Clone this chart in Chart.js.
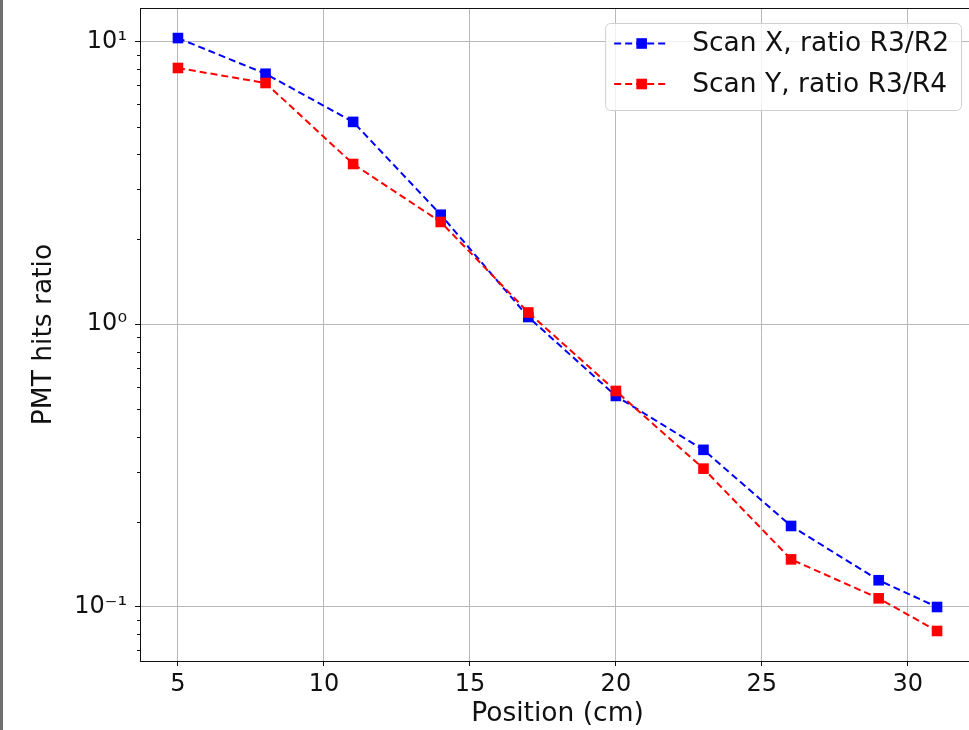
<!DOCTYPE html>
<html>
<head>
<meta charset="utf-8">
<script src="https://cdn.jsdelivr.net/npm/chart.js@4.4.1/dist/chart.umd.min.js"></script>
<style>
    html, body { margin: 0; padding: 0; background: #fff; overflow: hidden; }
    #wrap { position: relative; width: 969px; height: 730px; overflow: hidden; }
    #chart { position: absolute; left: 0; top: 0; }
    #frame { position: absolute; left: 0; top: 0; width: 3px; height: 730px; background: #707070; }
</style>
</head>
<body>
<div id="wrap">
    <canvas id="chart" width="990" height="730"></canvas>
    <div id="frame"></div>
</div>
<script>
// Position of the scan (cm)
const positions = [5, 8, 11, 14, 17, 20, 23, 26, 29, 31];

// PMT hits ratios
const scanXRatio = [10.3, 7.7, 5.2, 2.44, 1.06, 0.557, 0.359, 0.193, 0.124, 0.0997];
const scanYRatio = [8.07, 7.14, 3.69, 2.30, 1.10, 0.58, 0.308, 0.147, 0.107, 0.082];

const seriesLabels = ['Scan X, ratio R3/R2', 'Scan Y, ratio R3/R4'];
const seriesColors = ['#0000ff', '#ff0000'];

// Tick values and labels
const xTickValues = [5, 10, 15, 20, 25, 30];
const yTickValues = [0.1, 1, 10];
const yTickLabels = ['10\u207B\u00B9', '10\u2070', '10\u00B9'];
const yDecades = [0.01, 0.1, 1, 10];

const FONT = 'DejaVu Sans';
const GRID = '#b8b8b8';
const DASH = [7, 4];

function toPoints(values) {
    return positions.map((x, i) => ({ x: x, y: values[i] }));
}

// Draw the full box round the plot area
const frameBox = {
    id: 'frameBox',
    afterDraw(chart) {
        const { ctx, chartArea } = chart;
        ctx.save();
        ctx.strokeStyle = '#111';
        ctx.lineWidth = 1;
        ctx.strokeRect(Math.round(chartArea.left) + 0.5, Math.round(chartArea.top) + 0.5,
            Math.round(chartArea.right - chartArea.left), Math.round(chartArea.bottom - chartArea.top));

        // short minor ticks on the log axis
        const y = chart.scales.y;
        y.ticks.forEach((t) => {
            if (t.major) return;
            const py = Math.round(y.getPixelForValue(t.value)) + 0.5;
            ctx.beginPath();
            ctx.moveTo(chartArea.left - 3, py);
            ctx.lineTo(chartArea.left, py);
            ctx.stroke();
        });
        ctx.restore();
    }
};

// Legend drawn inside the plot, upper right
const insideLegend = {
    id: 'insideLegend',
    afterDraw(chart) {
        const { ctx, chartArea } = chart;
        ctx.save();
        ctx.font = `26.5px "${FONT}"`;
        const sets = chart.data.datasets;
        const textW = Math.max(...sets.map(d => ctx.measureText(d.label).width));
        const w = 9 + 55 + 23 + textW + 12;
        const h = 87;
        const right = chartArea.right - 14;
        const left = right - w;
        const top = chartArea.top + 15;

        ctx.beginPath();
        ctx.roundRect(left + 0.5, top + 0.5, w, h, 5);
        ctx.fillStyle = 'rgba(255,255,255,0.8)';
        ctx.fill();
        ctx.strokeStyle = '#d0d0d0';
        ctx.lineWidth = 1;
        ctx.stroke();

        sets.forEach((d, i) => {
            const ry = top + 20.5 + i * 40.5;
            ctx.strokeStyle = d.borderColor;
            ctx.lineWidth = 2;
            ctx.setLineDash(DASH);
            ctx.beginPath();
            ctx.moveTo(left + 9, ry);
            ctx.lineTo(left + 64, ry);
            ctx.stroke();
            ctx.setLineDash([]);
            ctx.fillStyle = d.borderColor;
            ctx.fillRect(left + 36.5 - 5.3, ry - 5.3, 10.6, 10.6);

            ctx.fillStyle = '#111';
            ctx.textBaseline = 'middle';
            ctx.textAlign = 'left';
            ctx.fillText(d.label, left + 87, ry + 1);
        });
        ctx.restore();
    }
};

new Chart(document.getElementById('chart'), {
    type: 'line',
    data: {
        datasets: [
            {
                label: seriesLabels[0],
                data: toPoints(scanXRatio),
                borderColor: seriesColors[0],
                backgroundColor: seriesColors[0],
                pointBackgroundColor: seriesColors[0],
                borderWidth: 2,
                borderDash: DASH,
                pointStyle: 'rect',
                pointRadius: 7.5,
                pointBorderWidth: 0,
                order: 1
            },
            {
                label: seriesLabels[1],
                data: toPoints(scanYRatio),
                borderColor: seriesColors[1],
                backgroundColor: seriesColors[1],
                pointBackgroundColor: seriesColors[1],
                borderWidth: 2,
                borderDash: DASH,
                pointStyle: 'rect',
                pointRadius: 7.5,
                pointBorderWidth: 0,
                order: 0
            }
        ]
    },
    options: {
        responsive: false,
        animation: false,
        events: [],
        layout: { autoPadding: false, padding: { left: 0, top: 8, right: 15, bottom: 0 } },
        plugins: {
            legend: { display: false },
            tooltip: { enabled: false }
        },
        scales: {
            x: {
                type: 'linear',
                min: 3.7,
                max: 32.3,
                afterBuildTicks: (scale) => {
                    scale.ticks = xTickValues.map(v => ({ value: v, major: true }));
                },
                afterFit: (scale) => {
                    scale.height = 69;
                    scale.paddingLeft = 0;
                    scale.paddingRight = 0;
                },
                border: { display: false },
                grid: { color: GRID, lineWidth: 1, tickColor: '#111', tickLength: 5 },
                ticks: {
                    autoSkip: false,
                    maxRotation: 0,
                    padding: 4,
                    color: '#111',
                    font: { family: FONT, size: 24, lineHeight: 1.2 }
                },
                title: {
                    display: true,
                    text: 'Position (cm)',
                    color: '#111',
                    padding: { top: 0, bottom: 0 },
                    font: { family: FONT, size: 26.5, lineHeight: 1.2 }
                }
            },
            y: {
                type: 'logarithmic',
                min: 0.0642,
                max: 13.16,
                afterBuildTicks: (scale) => {
                    const ticks = [];
                    yDecades.forEach((d) => {
                        for (let m = 1; m <= 9; m++) {
                            const v = +(m * d).toPrecision(6);
                            if (v >= scale.min && v <= scale.max) {
                                ticks.push({ value: v, major: yTickValues.includes(v) });
                            }
                        }
                    });
                    scale.ticks = ticks;
                },
                afterFit: (scale) => {
                    scale.width = 140;
                    scale.paddingTop = 0;
                    scale.paddingBottom = 0;
                },
                border: { display: false },
                grid: {
                    color: (c) => (c.tick && c.tick.major ? GRID : 'rgba(0,0,0,0)'),
                    tickColor: (c) => (c.tick && c.tick.major ? '#111' : 'rgba(0,0,0,0)'),
                    lineWidth: 1,
                    tickLength: 5
                },
                ticks: {
                    autoSkip: false,
                    padding: 8,
                    color: '#111',
                    font: { family: FONT, size: 24, lineHeight: 1.2 },
                    callback: (value) => {
                        const k = yTickValues.indexOf(+(+value).toPrecision(6));
                        return k >= 0 ? yTickLabels[k] : '';
                    }
                },
                title: {
                    display: true,
                    text: 'PMT hits ratio',
                    color: '#111',
                    padding: { top: 28, bottom: 0 },
                    font: { family: FONT, size: 26.5, lineHeight: 1.2 }
                }
            }
        }
    },
    plugins: [frameBox, insideLegend]
});
</script>
</body>
</html>
